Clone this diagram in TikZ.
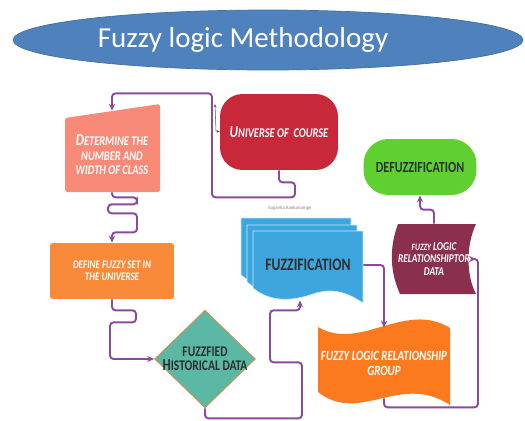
\documentclass[tikz,border=0pt]{standalone}
\usepackage{fontspec}
\setmainfont{Carlito}
\newfontfamily\condfont{Carlito}[FakeStretch=0.78, BoldFont=Carlito Bold, ItalicFont=Carlito Italic, BoldItalicFont=Carlito Bold Italic]
\usetikzlibrary{shapes, arrows.meta, positioning}

\definecolor{flowpurple}{HTML}{8A4B9E}
\definecolor{titleblue}{HTML}{4F81BD}
\definecolor{titleedge}{HTML}{41719C}
\definecolor{salmon}{HTML}{FA8A78}
\definecolor{crimson}{HTML}{C8283A}
\definecolor{setorange}{HTML}{F98A3A}
\definecolor{histteal}{HTML}{5BB8A4}
\definecolor{histedge}{HTML}{F08A3C}
\definecolor{fuzblue}{HTML}{3DA6DF}
\definecolor{grporange}{HTML}{FC7A1E}
\definecolor{maroon}{HTML}{8A2F4E}
\definecolor{defzgreen}{HTML}{60CF30}
\definecolor{darktext}{HTML}{2F2F2F}

\newcommand{\bigfirst}[1]{{\fontsize{9.5}{9}\selectfont #1}}
\newcommand{\docpage}[2]{%
  \fill[fuzblue, draw=white!75!fuzblue, line width=0.4pt] (#1,#2) -- (#1+110,#2) -- (#1+110,#2+72)
    .. controls (#1+92,#2+60) and (#1+78,#2+57) .. (#1+60,#2+63)
    .. controls (#1+40,#2+70) and (#1+18,#2+72) .. (#1,#2+57) -- cycle;}

\begin{document}
\begin{tikzpicture}[x=0.02cm, y=-0.02cm,
        flow/.style={draw=flowpurple, line width=1.1pt, rounded corners=2pt, -{Stealth[length=4pt, width=3.5pt]}},
        wlbl/.style={text=white, align=center, font=\condfont\bfseries\itshape\fontsize{7.6}{8.2}\selectfont},
        dlbl/.style={text=darktext, align=center, font=\condfont\bfseries\fontsize{10}{10}\selectfont}
    ]
        \useasboundingbox (0,0) rectangle (525,420);

        \fill[salmon, rounded corners=1pt] (65,118) -- (160,104) -- (160,192) -- (65,192) -- cycle;
        \foreach \px/\py in {241/218, 247/225, 253/231} {\docpage{\px}{\py}}
        \fill[grporange] (318,327) .. controls (360,352) and (405,300) .. (450,328) -- (450,405)
            .. controls (400,372) and (360,425) .. (318,392) -- cycle;
        \fill[maroon] (398,224) -- (476,224) .. controls (466,245) and (466,275) .. (476,294) -- (400,294)
            .. controls (390,272) and (389,248) .. (398,224) -- cycle;

        \node[ellipse, fill=titleblue, draw=titleedge, minimum width=10.2cm, minimum height=1.2cm, text=white, font=\fontsize{16.5}{20}\selectfont] (title) at (268,40) {Fuzzy logic Methodology\hspace*{1cm}};
        \node[wlbl, minimum width=1.9cm, minimum height=1.48cm] (det) at (112,155) {\bigfirst{D}ETERMINE THE\\NUMBER AND\\WIDTH OF CLASS};
        \node[wlbl, rectangle, rounded corners=0.45cm, fill=crimson, minimum width=2.36cm, minimum height=1.52cm] (uni) at (279,132) {\bigfirst{U}NIVERSE OF\ \ COURSE};
        \node[wlbl, rectangle, rounded corners=1.5pt, fill=setorange, minimum width=2.48cm, minimum height=1.12cm, font=\condfont\bfseries\itshape\fontsize{6.6}{7}\selectfont] (def) at (112,271) {DEFINE FUZZY SET IN\\THE UNIVERSE};
        \node[diamond, fill=histteal, draw=histedge, minimum width=2.02cm, minimum height=1.96cm, inner sep=0pt,
            label={[dlbl, font=\condfont\bfseries\fontsize{8.4}{8}\selectfont]center:FUZZFIED\\\bigfirst{H}ISTORICAL DATA}] (dia) at (205,359) {};
        \node[dlbl, minimum width=2.2cm, minimum height=1.4cm] (fuz) at (308,265) {FUZZIFICATION};
        \node[text=gray, font=\fontsize{2.8}{3}\selectfont] (sig) at (290,208) {Sagarika Kankanamge};
        \node[wlbl, minimum width=2.64cm, minimum height=1.4cm, font=\condfont\bfseries\itshape\fontsize{8}{8.6}\selectfont] (grp) at (384,363) {FUZZY LOGIC RELATIONSHIP\\GROUP};
        \node[wlbl, minimum width=1.44cm, minimum height=1.4cm, font=\condfont\bfseries\itshape\fontsize{6.8}{7.2}\selectfont] (dat) at (434,259) {{\fontsize{5.5}{7}\selectfont FUZZY} LOGIC\\RELATIONSHIPTOR\\DATA};
        \node[dlbl, rectangle, rounded corners=0.5cm, fill=defzgreen, minimum width=2.26cm, minimum height=1.12cm, font=\condfont\bfseries\fontsize{8.8}{9}\selectfont] (defz) at (420,167) {DEFUZZIFICATION};

        \draw[flow] (uni.south) -- ++(0,12) -- ++(16,0) -- ++(0,15) -- ++(-83,0) -- ++(0,-104) -| ([yshift=0.14cm]det.north);
        \draw[flow] (det.south) -- ++(0,5) -- ++(25,0) -- ++(0,7) -- ++(-29,0) -- ++(0,9) -- ++(29,0) -- ++(0,19) -- ++(-25,0) -- (def.north);
        \draw[flow] (def.south) -- ++(0,11) -- ++(24,0) -- ++(0,12) -- ++(-26,0) |- (dia.west);
        \draw[flow] (dia.south) -- ++(0,10) -- ++(97,0) -- ++(0,-56) -- ++(-32,0) -- ++(0,-52) -| ([xshift=-0.16cm]fuz.south);
        \draw[flow] (fuz.east) -| (grp.north);
        \draw[flow] (grp.south) -- ++(0,9) -- ++(94,0) |- (dat.east);
        \draw[flow] (dat.north) -- ++(0,-14) -| (defz.south);

        \coordinate (tick) at (215,104);
        \draw[gray!70!black, line width=0.3pt, {Stealth[length=2pt]}-{Stealth[length=2pt]}] (tick) -- ++(1,27) -- ++(4,1);
    \end{tikzpicture}
\end{document}
